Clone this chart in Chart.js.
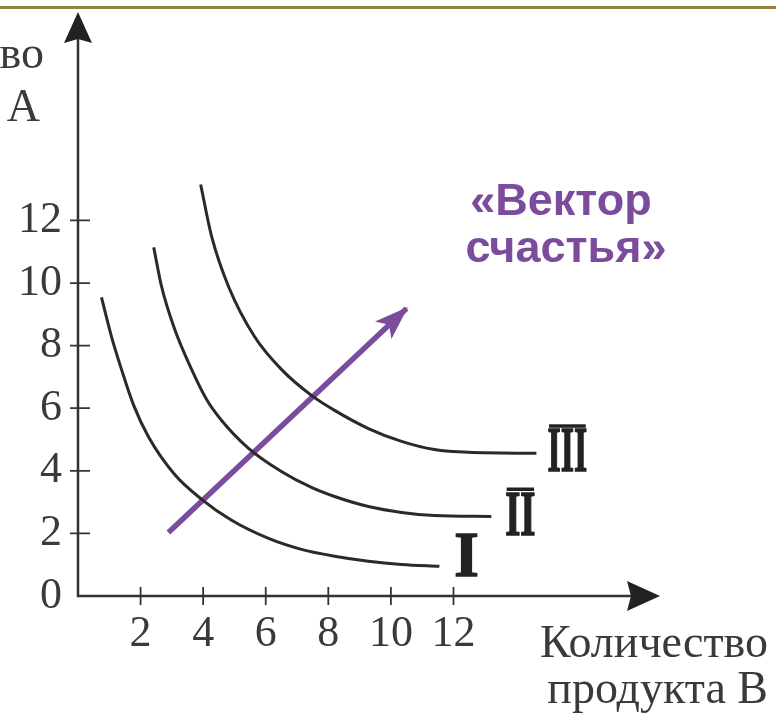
<!DOCTYPE html>
<html>
<head>
<meta charset="utf-8">
<script src="https://cdn.jsdelivr.net/npm/chart.js"></script>
<style>
  body { margin: 0; background: #fff; }
  #wrap { position: relative; width: 776px; height: 716px; }
  #topline { position: absolute; left: 0; top: 6px; width: 776px; height: 3px; background: #928343; }
</style>
</head>
<body>
<div id="wrap">
  <canvas id="myChart" width="776" height="716"></canvas>
  <div id="topline"></div>
</div>
<script>
// indifference curves
const curveNames = ['I', 'II', 'III'];

const curve1X = [0.75, 1.07, 1.39, 1.78, 2.26, 3.09, 3.95, 4.91, 6.09, 7.14, 8.20, 9.28, 10.34, 11.55];
const curve1Y = [9.54, 8.29, 7.24, 6.09, 5.07, 3.88, 3.09, 2.42, 1.84, 1.49, 1.27, 1.11, 1.01, 0.95];

const curve2X = [2.42, 2.67, 3.09, 3.63, 4.11, 4.59, 5.45, 6.50, 7.46, 8.20, 9.28, 10.34, 11.39, 13.21];
const curve2Y = [11.14, 9.89, 8.52, 7.24, 6.28, 5.61, 4.72, 3.98, 3.47, 3.18, 2.86, 2.67, 2.57, 2.54];

const curve3X = [3.92, 4.27, 4.81, 5.64, 6.50, 7.46, 8.20, 9.28, 10.34, 11.39, 12.48, 14.65];
const curve3Y = [13.15, 11.49, 9.89, 8.29, 7.24, 6.41, 5.93, 5.35, 4.94, 4.68, 4.59, 4.56];

// "happiness vector"
const vectorX = [2.89, 10.50];
const vectorY = [2.03, 9.19];

const xTickLabels = [2, 4, 6, 8, 10, 12];
const yTickLabels = [0, 2, 4, 6, 8, 10, 12];

const INK = '#2a2a2a';
const TEXT = '#3a3a3a';
const PURPLE = '#7b4c9c';

function pts(xs, ys) {
  return xs.map((x, i) => ({ x: x, y: ys[i] }));
}

function curveSet(xs, ys) {
  return {
    data: pts(xs, ys),
    showLine: true,
    borderColor: INK,
    borderWidth: 3,
    pointRadius: 0,
    cubicInterpolationMode: 'monotone',
    fill: false
  };
}

// roman numeral: horizontal squeeze, overline for II and III
function numeral(ctx, text, cx, bottom, sx) {
  ctx.save();
  ctx.font = 'bold 63px "Liberation Serif"';
  ctx.fillStyle = '#222';
  ctx.strokeStyle = '#222';
  ctx.lineWidth = 1.5;
  let w = ctx.measureText(text).width * sx - 3;
  ctx.translate(cx, bottom);
  ctx.scale(sx, 1);
  ctx.textAlign = 'center';
  ctx.textBaseline = 'alphabetic';
  ctx.fillText(text, 0, 0);
  ctx.strokeText(text, 0, 0);
  ctx.restore();
  if (text.length > 1) {
    ctx.fillStyle = '#222';
    ctx.fillRect(cx - w / 2, bottom - 47, w, 3.5);
  }
}

const overlay = {
  id: 'overlay',
  afterDraw(chart) {
    const ctx = chart.ctx;
    const a = chart.chartArea;
    const xs = chart.scales.x;
    const ys = chart.scales.y;
    ctx.save();

    // axes with arrows
    ctx.strokeStyle = '#333';
    ctx.fillStyle = '#222';
    ctx.lineWidth = 2.5;
    ctx.beginPath();
    ctx.moveTo(a.left, a.top + 25);
    ctx.lineTo(a.left, a.bottom);
    ctx.lineTo(a.right - 25, a.bottom);
    ctx.stroke();

    ctx.beginPath();
    ctx.moveTo(a.left, a.top);
    ctx.lineTo(a.left - 14, a.top + 31);
    ctx.lineTo(a.left, a.top + 27);
    ctx.lineTo(a.left + 14, a.top + 31);
    ctx.closePath();
    ctx.fill();

    ctx.beginPath();
    ctx.moveTo(a.right, a.bottom);
    ctx.lineTo(a.right - 33, a.bottom - 15);
    ctx.lineTo(a.right - 29, a.bottom);
    ctx.lineTo(a.right - 33, a.bottom + 15);
    ctx.closePath();
    ctx.fill();

    // tick marks crossing the axes
    ctx.lineWidth = 1.8;
    ctx.beginPath();
    xTickLabels.forEach(v => {
      let px = xs.getPixelForValue(v);
      ctx.moveTo(px, a.bottom - 9);
      ctx.lineTo(px, a.bottom + 9);
    });
    yTickLabels.filter(v => v > 0).forEach(v => {
      let py = ys.getPixelForValue(v);
      ctx.moveTo(a.left - 8, py);
      ctx.lineTo(a.left + 12, py);
    });
    ctx.stroke();

    // arrowhead on the vector
    const meta = chart.getDatasetMeta(3);
    const p0 = meta.data[0];
    const p1 = meta.data[1];
    let dx = p1.x - p0.x, dy = p1.y - p0.y;
    let len = Math.sqrt(dx * dx + dy * dy);
    let ux = dx / len, uy = dy / len;
    ctx.fillStyle = PURPLE;
    ctx.beginPath();
    ctx.moveTo(p1.x + ux * 2, p1.y + uy * 2);
    ctx.lineTo(p1.x - ux * 32 - uy * 12, p1.y - uy * 32 + ux * 12);
    ctx.lineTo(p1.x - ux * 24, p1.y - uy * 24);
    ctx.lineTo(p1.x - ux * 32 + uy * 12, p1.y - uy * 32 - ux * 12);
    ctx.closePath();
    ctx.fill();

    // curve numerals next to the curve ends
    const ends = [[curve1X, curve1Y, 27, 10, 1.0], [curve2X, curve2Y, 29, 18, 0.62], [curve3X, curve3Y, 31, 18, 0.54]];
    ends.forEach((e, i) => {
      let n = e[0].length - 1;
      let px = xs.getPixelForValue(e[0][n]);
      let py = ys.getPixelForValue(e[1][n]);
      numeral(ctx, curveNames[i], px + e[2], py + e[3], e[4]);
    });

    // axis titles
    ctx.fillStyle = TEXT;
    ctx.font = '46px "Liberation Serif"';
    ctx.textAlign = 'right';
    ctx.textBaseline = 'alphabetic';
    ctx.fillText('Количество', 768, 657);
    ctx.fillText('продукта В', 768, 703);
    ctx.fillText('Количество', 44, 68);
    ctx.fillText('продукта А', 40, 121);

    // caption
    ctx.fillStyle = PURPLE;
    ctx.font = 'bold 45px "Liberation Sans"';
    ctx.textAlign = 'center';
    ctx.fillText('«Вектор', 561, 215);
    ctx.fillText('счастья»', 566, 262);

    ctx.restore();
  }
};

const ctx = document.getElementById('myChart').getContext('2d');
const chart = new Chart(ctx, {
  type: 'scatter',
  data: {
    datasets: [
      curveSet(curve1X, curve1Y),
      curveSet(curve2X, curve2Y),
      curveSet(curve3X, curve3Y),
      {
        data: pts(vectorX, vectorY),
        showLine: true,
        borderColor: PURPLE,
        borderWidth: 5.5,
        pointRadius: 0,
        tension: 0
      }
    ]
  },
  options: {
    responsive: false,
    animation: false,
    devicePixelRatio: 1,
    layout: { padding: { top: 12, right: 116, left: 0, bottom: 0 } },
    plugins: { legend: { display: false }, tooltip: { enabled: false } },
    scales: {
      x: {
        type: 'linear',
        min: 0,
        max: 18.6,
        grid: { display: false, drawTicks: false },
        border: { display: false },
        afterFit: s => { s.height = 120; s.paddingLeft = 0; s.paddingRight = 0; },
        ticks: {
          stepSize: 2,
          autoSkip: false,
          maxRotation: 0,
          padding: 12,
          color: TEXT,
          font: { family: 'Liberation Serif', size: 44 },
          callback: v => xTickLabels.includes(v) ? v : ''
        }
      },
      y: {
        type: 'linear',
        min: 0,
        max: 18.66,
        grid: { display: false, drawTicks: false },
        border: { display: false },
        afterFit: s => { s.width = 78; s.paddingTop = 0; s.paddingBottom = 0; },
        ticks: {
          stepSize: 2,
          autoSkip: false,
          padding: 16,
          color: TEXT,
          font: { family: 'Liberation Serif', size: 44 },
          callback: v => yTickLabels.includes(v) ? v : ''
        }
      }
    }
  },
  plugins: [overlay]
});
</script>
</body>
</html>
